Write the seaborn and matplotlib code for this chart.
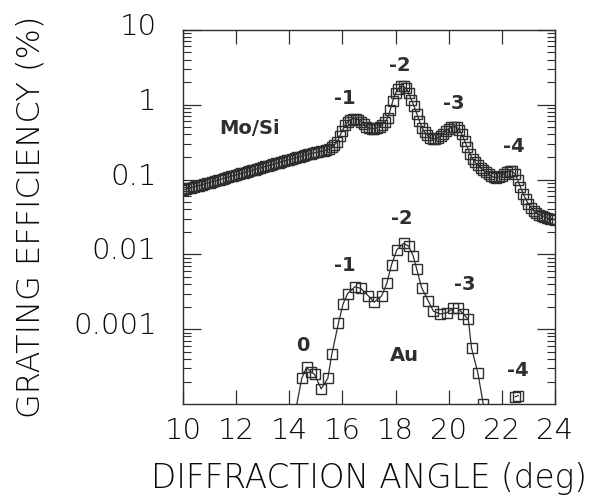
import numpy as np
import pandas as pd
import matplotlib
matplotlib.use("Agg")
import matplotlib.pyplot as plt
import matplotlib.transforms as mtrans
import seaborn as sns
from matplotlib.ticker import LogLocator, NullFormatter, FixedLocator

# Mo/Si multilayer grating, efficiency (%) vs diffraction angle (deg)
mosi_angle = [
    10.0, 10.1, 10.2, 10.3, 10.4, 10.5, 10.6, 10.7, 10.8, 10.9,
    11.0, 11.1, 11.2, 11.3, 11.4, 11.5, 11.6, 11.7, 11.8, 11.9,
    12.0, 12.1, 12.2, 12.3, 12.4, 12.5, 12.6, 12.7, 12.8, 12.9,
    13.0, 13.1, 13.2, 13.3, 13.4, 13.5, 13.6, 13.7, 13.8, 13.9,
    14.0, 14.1, 14.2, 14.3, 14.4, 14.5, 14.6, 14.7, 14.8, 14.9,
    15.0, 15.1, 15.2, 15.3, 15.4, 15.5, 15.6, 15.7, 15.8, 15.9,
    16.0, 16.1, 16.2, 16.3, 16.4, 16.5, 16.6, 16.7, 16.8, 16.9,
    17.0, 17.1, 17.2, 17.3, 17.4, 17.5, 17.6, 17.7, 17.8, 17.9,
    18.0, 18.1, 18.2, 18.3, 18.4, 18.5, 18.6, 18.7, 18.8, 18.9,
    19.0, 19.1, 19.2, 19.3, 19.4, 19.5, 19.6, 19.7, 19.8, 19.9,
    20.0, 20.1, 20.2, 20.3, 20.4, 20.5, 20.6, 20.7, 20.8, 20.9,
    21.0, 21.1, 21.2, 21.3, 21.4, 21.5, 21.6, 21.7, 21.8, 21.9,
    22.0, 22.1, 22.2, 22.3, 22.4, 22.5, 22.6, 22.7, 22.8, 22.9,
    23.0, 23.1, 23.2, 23.3, 23.4, 23.5, 23.6, 23.7, 23.8, 23.9, 24.0,
]
mosi_eff = [
    0.072, 0.074, 0.076, 0.078, 0.080, 0.082, 0.083, 0.085, 0.087, 0.089,
    0.091, 0.094, 0.096, 0.098, 0.100, 0.103, 0.105, 0.108, 0.110, 0.113,
    0.115, 0.118, 0.121, 0.124, 0.127, 0.130, 0.133, 0.136, 0.139, 0.143,
    0.146, 0.150, 0.153, 0.157, 0.160, 0.164, 0.168, 0.172, 0.176, 0.181,
    0.185, 0.189, 0.193, 0.198, 0.203, 0.208, 0.212, 0.217, 0.222, 0.226,
    0.230, 0.234, 0.238, 0.242, 0.248, 0.256, 0.270, 0.29, 0.32, 0.38,
    0.45, 0.53, 0.59, 0.63, 0.65, 0.65, 0.63, 0.59, 0.55, 0.51,
    0.49, 0.48, 0.48, 0.49, 0.51, 0.54, 0.58, 0.66, 0.85, 1.13,
    1.42, 1.62, 1.75, 1.75, 1.65, 1.42, 1.15, 0.95, 0.76, 0.60,
    0.49, 0.43, 0.39, 0.36, 0.35, 0.35, 0.36, 0.38, 0.41, 0.45,
    0.48, 0.50, 0.51, 0.50, 0.46, 0.40, 0.33, 0.27, 0.22, 0.19,
    0.17, 0.155, 0.143, 0.133, 0.125, 0.118, 0.112, 0.108, 0.106, 0.108,
    0.113, 0.120, 0.126, 0.130, 0.128, 0.118, 0.098, 0.080, 0.065, 0.055,
    0.047, 0.042, 0.038, 0.036, 0.034, 0.033, 0.032, 0.031, 0.030, 0.030, 0.029,
]

# Au grating
au_angle = [14.2, 14.47, 14.65, 14.8, 14.95, 15.2, 15.45, 15.6, 15.85, 16.03,
            16.2, 16.47, 16.7, 16.97, 17.2, 17.48, 17.67, 17.85, 18.05, 18.3,
            18.5, 18.67, 18.8, 18.98, 19.23, 19.42, 19.67, 19.92, 20.17, 20.35,
            20.55, 20.74, 20.86, 21.1, 21.3]
au_eff = [7e-5, 2.2e-4, 3.1e-4, 2.7e-4, 2.5e-4, 1.6e-4, 2.2e-4, 4.6e-4, 1.2e-3, 2.2e-3,
          3.0e-3, 3.7e-3, 3.5e-3, 2.8e-3, 2.3e-3, 2.8e-3, 4.1e-3, 7.3e-3, 1.15e-2, 1.4e-2,
          1.28e-2, 9.4e-3, 6.3e-3, 3.6e-3, 2.4e-3, 1.75e-3, 1.6e-3, 1.65e-3, 1.9e-3, 1.9e-3,
          1.6e-3, 1.35e-3, 5.6e-4, 2.6e-4, 1.0e-4]
au4_angle = [22.5, 22.62]
au4_eff = [1.25e-4, 1.3e-4]

mosi_labels = ["Mo/Si", "-1", "-2", "-3", "-4"]
mosi_label_x = [12.5, 16.1, 18.15, 20.2, 22.45]
mosi_label_y = [0.48, 1.2, 3.3, 1.03, 0.275]
au_labels = ["0", "-1", "-2", "-3", "Au", "-4"]
au_label_x = [14.5, 16.1, 18.25, 20.6, 18.35, 22.6]
au_label_y = [6.1e-4, 7.1e-3, 0.03, 3.9e-3, 4.5e-4, 2.8e-4]

sns.set_style("ticks")
plt.rcParams['font.family'] = ['DejaVu Sans']

ink = '#2e2e2e'
txt = '#0a0a0a'
fig = plt.figure(figsize=(5.98, 4.97), dpi=100)
ax = fig.add_axes([0.306, 0.187, 0.622, 0.753])

df_m = pd.DataFrame({'angle': mosi_angle, 'eff': mosi_eff})
df_a = pd.DataFrame({'angle': au_angle, 'eff': au_eff})
df_a4 = pd.DataFrame({'angle': au4_angle, 'eff': au4_eff})

mk = dict(marker='s', markersize=6.8, markerfacecolor='none',
          markeredgecolor=ink, markeredgewidth=1.0, color=ink, linewidth=0.9)
for d in (df_m, df_a, df_a4):
    sns.lineplot(data=d, x='angle', y='eff', ax=ax, sort=False,
                 estimator=None, **mk)

ax.set_yscale('log')
ax.set_xlim(10, 24)
ax.set_ylim(1e-4, 10)
ax.xaxis.set_major_locator(FixedLocator([10, 12, 14, 16, 18, 20, 22, 24]))
ax.yaxis.set_major_locator(FixedLocator([1e-3, 1e-2, 1e-1, 1, 10]))
ax.yaxis.set_minor_locator(LogLocator(base=10, subs=np.arange(2, 10)))
ax.yaxis.set_minor_formatter(NullFormatter())
ax.set_yticklabels(['0.001', '0.01', '0.1', '1', '10'])

ax.tick_params(axis='both', which='both', direction='in', top=True, right=True,
               color=ink)
ax.tick_params(axis='x', which='major', length=10, width=0.9)
ax.tick_params(axis='y', which='major', length=13, width=0.9)
ax.tick_params(axis='y', which='minor', length=6, width=0.8)
ax.tick_params(axis='both', labelsize=21, labelcolor=txt)
ax.tick_params(axis='x', pad=9)
ax.tick_params(axis='y', pad=19)
for s in ax.spines.values():
    s.set_color(ink)
    s.set_linewidth(1.0)

# scanned original sets the y labels a little above their ticks
shift = mtrans.ScaledTranslation(0, 0.06, fig.dpi_scale_trans)
for lab in ax.get_yticklabels():
    lab.set_transform(lab.get_transform() + shift)
for lab in ax.get_xticklabels() + ax.get_yticklabels():
    lab.set_fontweight('light')

ax.set_xlabel('DIFFRACTION ANGLE (deg)', fontsize=23.5, color=txt, va='center',
              fontweight='light')
ax.set_ylabel('GRATING EFFICIENCY (%)', fontsize=23, color=txt, va='center',
              fontweight='light')
ax.xaxis.set_label_coords(0.5, -0.20)
ax.yaxis.set_label_coords(-0.41, 0.5)

for t, x, y in zip(mosi_labels, mosi_label_x, mosi_label_y):
    ax.text(x, y, t, ha='center', va='center', fontsize=14, fontweight='bold', color=ink)
for t, x, y in zip(au_labels, au_label_x, au_label_y):
    ax.text(x, y, t, ha='center', va='center', fontsize=14, fontweight='bold', color=ink)

fig.savefig('out.png', dpi=100)
